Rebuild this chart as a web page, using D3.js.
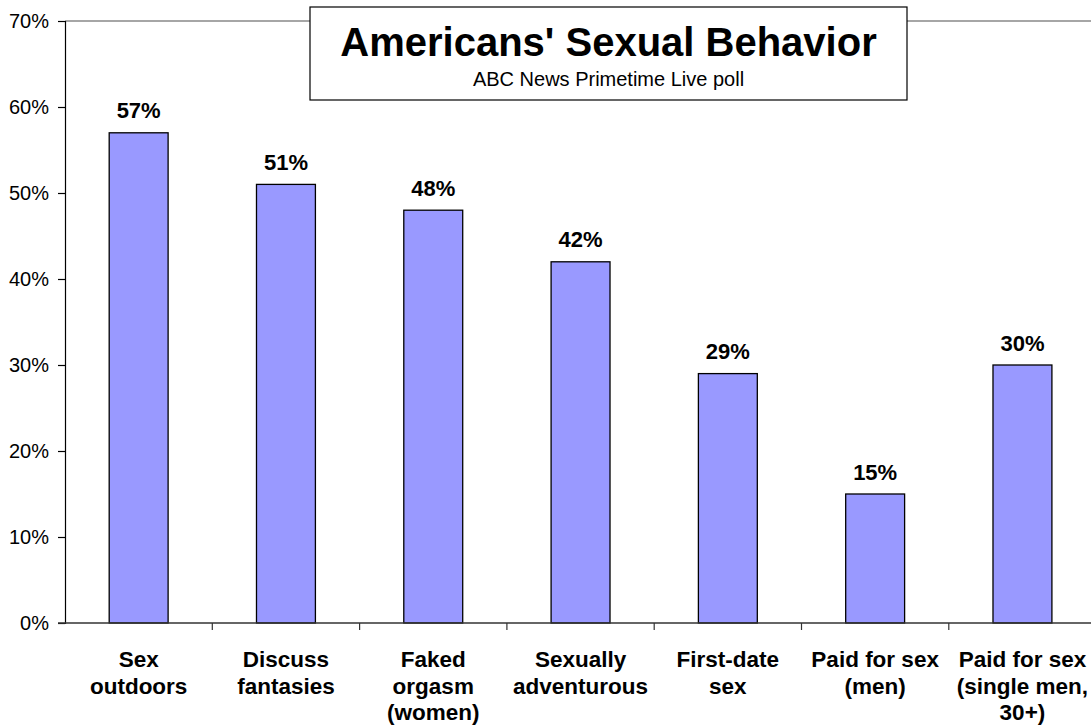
<!DOCTYPE html>
<html>
<head>
<meta charset="utf-8">
<script src="https://cdn.jsdelivr.net/npm/d3@7"></script>
<style>
  html, body { margin: 0; padding: 0; background: #fff; }
  svg { display: block; font-family: "Liberation Sans", Arial, sans-serif; }
</style>
</head>
<body>
<svg id="chart" width="1091" height="726"></svg>
<script>
// ---- data ----
const categories = [
  ["Sex", "outdoors"],
  ["Discuss", "fantasies"],
  ["Faked", "orgasm", "(women)"],
  ["Sexually", "adventurous"],
  ["First-date", "sex"],
  ["Paid for sex", "(men)"],
  ["Paid for sex", "(single men,", "30+)"]
];
const values = [0.57, 0.51, 0.48, 0.42, 0.29, 0.15, 0.30];
const yTicks = [0, 0.1, 0.2, 0.3, 0.4, 0.5, 0.6, 0.7];
const title = "Americans' Sexual Behavior";
const subtitle = "ABC News Primetime Live poll";

// ---- layout ----
const W = 1091, H = 726;
const plotLeft = 65, plotTop = 21, plotBottom = 623;
const step = 147.3;
const plotRight = plotLeft + step * categories.length;

const svg = d3.select("#chart");
const keys = categories.map((c, i) => i);

const x = d3.scaleBand()
  .domain(keys)
  .range([plotLeft, plotRight])
  .paddingInner(0.6)
  .paddingOuter(0.3);

const y = d3.scaleLinear()
  .domain([0, 0.7])
  .range([plotBottom, plotTop]);

// top border of plot area
svg.append("line")
  .attr("x1", plotLeft).attr("x2", W)
  .attr("y1", y(0.7)).attr("y2", y(0.7))
  .attr("stroke", "#888").attr("stroke-width", 1.3);

// bars
svg.append("g").selectAll("rect")
  .data(values)
  .join("rect")
  .attr("x", (d, i) => x(i))
  .attr("y", d => y(d))
  .attr("width", x.bandwidth())
  .attr("height", d => y(0) - y(d))
  .attr("fill", "#9999FF")
  .attr("stroke", "#000")
  .attr("stroke-width", 1.3);

// y axis
const yAxis = d3.axisLeft(y)
  .tickValues(yTicks)
  .tickFormat(d3.format(".0%"))
  .tickSize(7)
  .tickPadding(9);
const gy = svg.append("g")
  .attr("transform", `translate(${plotLeft},0)`)
  .call(yAxis);
gy.select(".domain").attr("stroke", "#000").attr("stroke-width", 1.2);
gy.selectAll(".tick line").attr("stroke", "#000").attr("stroke-width", 1.2);
gy.selectAll(".tick text")
  .attr("font-size", 20)
  .attr("font-family", "Liberation Sans, Arial, sans-serif")
  .attr("fill", "#000");

// x axis line
svg.append("line")
  .attr("x1", plotLeft - 7).attr("x2", W)
  .attr("y1", y(0)).attr("y2", y(0))
  .attr("stroke", "#333").attr("stroke-width", 1.3);

// category boundary ticks
const boundaries = keys.map(i => x(i) - x.step() * x.paddingInner() / 2 + x.step());
svg.append("g").selectAll("line")
  .data(boundaries)
  .join("line")
  .attr("x1", d => d).attr("x2", d => d)
  .attr("y1", y(0)).attr("y2", y(0) + 7)
  .attr("stroke", "#333").attr("stroke-width", 1.2);

// value labels
svg.append("g").selectAll("text")
  .data(values)
  .join("text")
  .attr("x", (d, i) => x(i) + x.bandwidth() / 2)
  .attr("y", d => y(d) - 14.5)
  .attr("text-anchor", "middle")
  .attr("font-size", 22)
  .attr("font-weight", "bold")
  .attr("fill", "#000")
  .text(d => d3.format(".0%")(d));

// category labels
const catG = svg.append("g").selectAll("text")
  .data(categories)
  .join("text")
  .attr("x", (d, i) => x(i) + x.bandwidth() / 2)
  .attr("y", 667)
  .attr("text-anchor", "middle")
  .attr("font-size", 22.5)
  .attr("font-weight", "bold")
  .attr("fill", "#000");
catG.selectAll("tspan")
  .data(d => d)
  .join("tspan")
  .attr("x", function () { return d3.select(this.parentNode).attr("x"); })
  .attr("dy", (d, j) => j === 0 ? 0 : 26.5)
  .text(d => d);

// title box
const boxX = 310, boxY = 7, boxW = 597, boxH = 93;
svg.append("rect")
  .attr("x", boxX).attr("y", boxY)
  .attr("width", boxW).attr("height", boxH)
  .attr("fill", "#fff").attr("stroke", "#000").attr("stroke-width", 1.2);
svg.append("text")
  .attr("x", boxX + boxW / 2).attr("y", 56)
  .attr("text-anchor", "middle")
  .attr("font-size", 40)
  .attr("font-weight", "bold")
  .attr("fill", "#000")
  .text(title);
svg.append("text")
  .attr("x", boxX + boxW / 2).attr("y", 86)
  .attr("text-anchor", "middle")
  .attr("font-size", 20)
  .attr("fill", "#000")
  .text(subtitle);
</script>
</body>
</html>
